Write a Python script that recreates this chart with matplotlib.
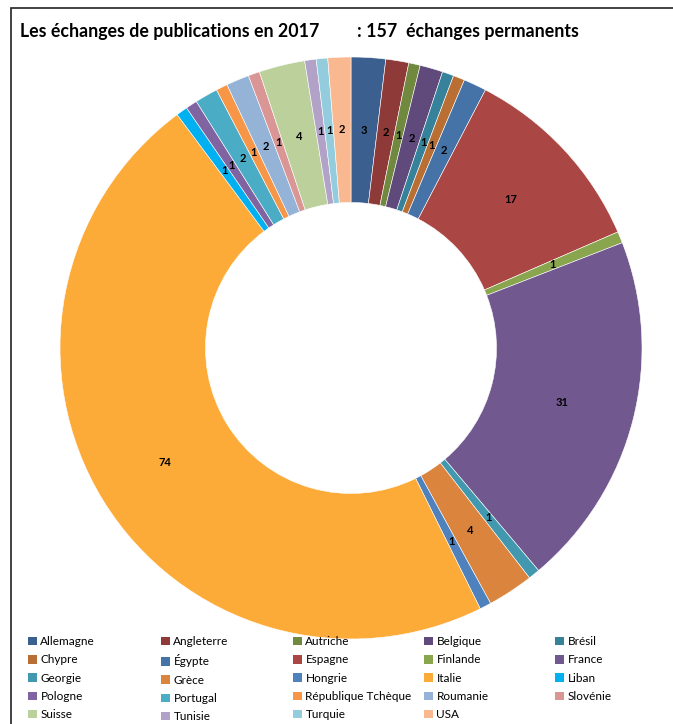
import matplotlib
matplotlib.use("Agg")
import matplotlib.pyplot as plt
from matplotlib.patches import Rectangle

countries = ["Allemagne", "Angleterre", "Autriche", "Belgique", "Brésil",
             "Chypre", "Égypte", "Espagne", "Finlande", "France",
             "Georgie", "Grèce", "Hongrie", "Italie", "Liban",
             "Pologne", "Portugal", "République Tchèque", "Roumanie", "Slovénie",
             "Suisse", "Tunisie", "Turquie", "USA"]
values = [3, 2, 1, 2, 1, 1, 2, 17, 1, 31, 1, 4, 1, 74, 1, 1, 2, 1, 2, 1, 4, 1, 1, 2]
colors = ["#3B5F8E", "#8E3A38", "#71893F", "#5F4A7B", "#35829A",
          "#B96F33", "#4572A7", "#AA4643", "#89A54E", "#71588F",
          "#4198AF", "#DB843D", "#4F81BD", "#FDAB38", "#00B0F0",
          "#8064A2", "#4BACC6", "#F79646", "#95B3D7", "#D99694",
          "#BBD09A", "#B2A2C7", "#93CDDD", "#FAB890"]
title_left = "Les échanges de publications en 2017"
title_right = ": 157  échanges permanents"

plt.rcParams['font.family'] = ['Lato', 'DejaVu Sans']

W, H = 673, 724
fig = plt.figure(figsize=(W / 100, H / 100), dpi=100)

cx, cy, R = 351, 348, 291
ax = fig.add_axes([(cx - R) / W, (H - cy - R) / H, 2 * R / W, 2 * R / H])
wedges, texts = ax.pie(values, colors=colors, startangle=90, counterclock=False,
                       radius=1, labels=[str(v) for v in values], labeldistance=0.75,
                       wedgeprops=dict(width=0.5, edgecolor='white', linewidth=0.4),
                       textprops=dict(fontsize=8, fontweight='bold', color='black'))
for t in texts:
    t.set_ha('center')
    t.set_va('center')
ax.set_xlim(-1, 1)
ax.set_ylim(-1, 1)
ax.set_aspect('equal')
ax.axis('off')

fig.text(20 / W, 1 - 31 / H, title_left, fontsize=12.8, fontweight='bold', va='center', ha='left')
fig.text(357 / W, 1 - 31 / H, title_right, fontsize=12.8, fontweight='bold', va='center', ha='left')

ncol = 5
col_x = [28, 161, 293, 424, 555]
for c in range(ncol):
    idx = list(range(c, len(countries), ncol))
    leg = fig.legend([wedges[i] for i in idx], [countries[i] for i in idx],
                     loc='upper left', bbox_to_anchor=(col_x[c] / W, 1 - 636 / H),
                     frameon=False, fontsize=8.5, handlelength=0.75, handleheight=0.75,
                     handletextpad=0.3, labelspacing=0.62, borderaxespad=0, borderpad=0)
    for h in leg.legend_handles:
        h.set_edgecolor('none')

fig.add_artist(Rectangle((11 / W, -0.05), 1.2, 1.05 - 8 / H, transform=fig.transFigure,
                         fill=False, edgecolor='#222222', linewidth=1.2))

fig.savefig("out.png", dpi=100)
